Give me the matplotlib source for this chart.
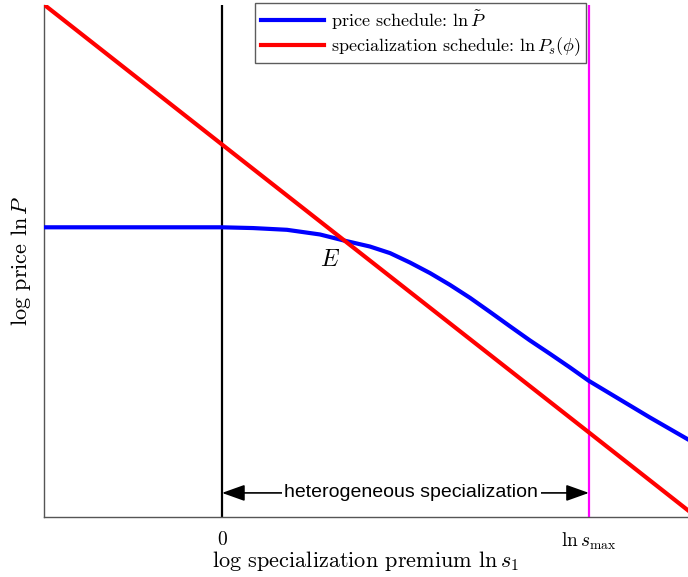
import matplotlib
matplotlib.use("Agg")
import matplotlib.pyplot as plt
import numpy as np

plt.rcParams['font.family'] = 'serif'
plt.rcParams['font.serif'] = ['cmr10']
plt.rcParams['mathtext.fontset'] = 'cm'
plt.rcParams['axes.unicode_minus'] = False

# log specialization premium, scaled so that ln s_max = 1
s_max = 1.0
x_lo, x_hi = -0.485, 1.27

# price schedule ln P~ (flat, then bending down past E)
price_x = [-0.485, -0.196, 0.0, 0.0845, 0.177, 0.267, 0.330, 0.403, 0.458,
           0.512, 0.567, 0.621, 0.676, 0.730, 0.785, 0.839, 0.894, 0.948,
           1.0, 1.084, 1.166, 1.27]
price_y = [0.5654, 0.5654, 0.5654, 0.5639, 0.5605, 0.5514, 0.5400, 0.5279,
           0.5150, 0.4967, 0.4760, 0.4531, 0.4277, 0.4004, 0.3721, 0.3447,
           0.3184, 0.2920, 0.2656, 0.2295, 0.1943, 0.1514]

# specialization schedule ln P_s(phi), a straight line
spec_x = [-0.485, 0.0, 1.0, 1.27]
spec_y = [1.0, 0.727, 0.165, 0.013]

tick_pos = [0.0, s_max]
tick_lab = ['$0$', r'$\ln s_{\max}$']

fig = plt.figure(figsize=(6.88, 5.77), dpi=100)
ax = fig.add_axes([0.064, 0.104, 0.936, 0.888])

ax.plot(price_x, price_y, color='#0000ff', lw=3,
        label=r'price schedule: $\ln \tilde{P}$', zorder=3,
        solid_joinstyle='round')
ax.plot(spec_x, spec_y, color='#ff0000', lw=3,
        label=r'specialization schedule: $\ln P_s(\phi)$', zorder=3)
ax.axvline(0.0, color='black', lw=1.6, zorder=2)
ax.axvline(s_max, color='#ff00ff', lw=1.6, zorder=2)

ax.text(0.294, 0.502, '$E$', fontsize=17, ha='center', va='center')

# double arrow marking the heterogeneous specialization range
ax.annotate('', xy=(0.0, 0.047), xytext=(s_max, 0.047),
            arrowprops=dict(arrowstyle='<|-|>,head_length=1.4,head_width=0.5',
                            color='black', lw=1.2, shrinkA=0, shrinkB=0))
ax.text(s_max / 2 + 0.016, 0.047, 'heterogeneous specialization', fontsize=14,
        family='Liberation Sans', ha='center', va='center',
        bbox=dict(facecolor='white', edgecolor='none', pad=2))

ax.set_xlim(x_lo, x_hi)
ax.set_ylim(0, 1.0)
ax.set_xticks(tick_pos)
ax.set_xticklabels(tick_lab, fontsize=14)
ax.set_yticks([])
ax.tick_params(axis='x', length=0, pad=10)
ax.set_xlabel(r'log specialization premium $\ln s_1$', fontsize=16, labelpad=-2)
ax.set_ylabel(r'log price $\ln P$', fontsize=16, labelpad=8)

for side in ['top', 'right']:
    ax.spines[side].set_visible(False)
for side in ['left', 'bottom']:
    ax.spines[side].set_color('#555555')
    ax.spines[side].set_linewidth(1.0)

leg = ax.legend(loc='upper left', bbox_to_anchor=(0.328, 1.003), fontsize=13,
                frameon=True, fancybox=False, handlelength=3.5,
                borderaxespad=0, borderpad=0.3, labelspacing=0.2,
                handletextpad=0.4)
leg.get_frame().set_edgecolor('#333333')
leg.get_frame().set_linewidth(1.0)

fig.savefig('out.png', dpi=100)
